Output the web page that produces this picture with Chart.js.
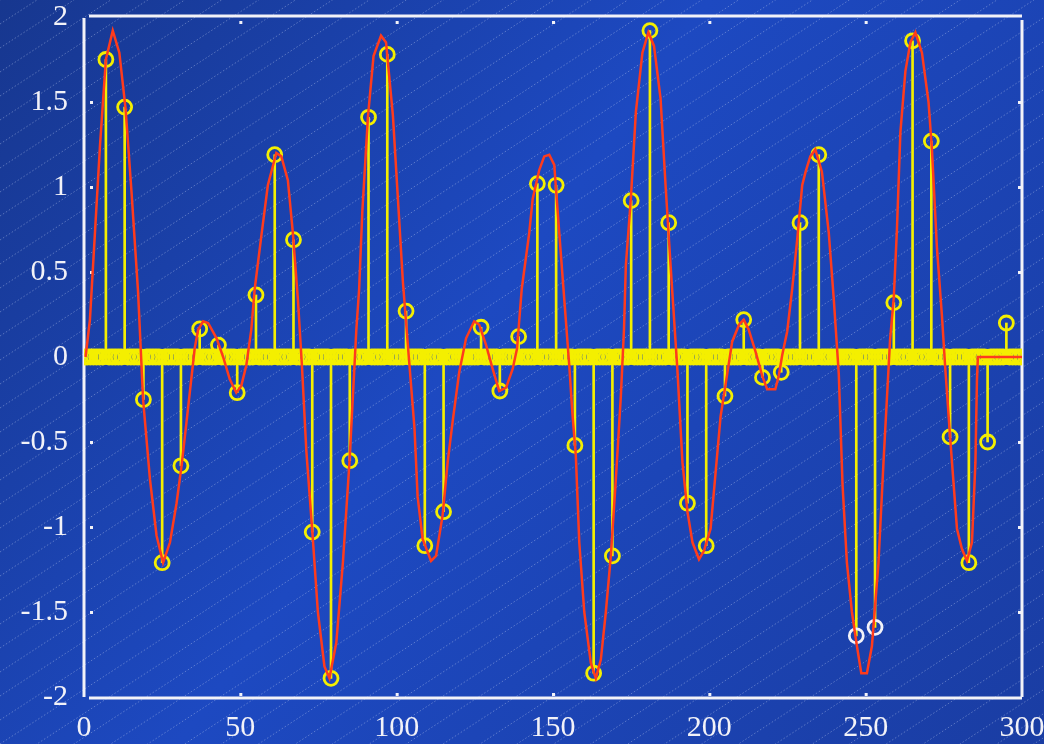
<!DOCTYPE html>
<html>
<head>
<meta charset="utf-8">
<script src="https://cdn.jsdelivr.net/npm/chart.js@4.4.1/dist/chart.umd.min.js"></script>
<style>
  html, body { margin: 0; padding: 0; background: #1c45b8; }
  canvas { display: block; }
</style>
</head>
<body>
<canvas id="grafico" width="1044" height="744"></canvas>
<script>
// muestras: indices con valor distinto de cero (cada 6)
const stemN = [7, 13, 19, 25, 31, 37, 43, 49, 55, 61, 67, 73, 79, 85, 91, 97, 103, 109, 115, 121,
  127, 133, 139, 145, 151, 157, 163, 169, 175, 181, 187, 193, 199, 205, 211, 217, 223, 229, 235, 241,
  247, 253, 259, 265, 271, 277, 283, 289, 295];
const stemValues = [1.75, 1.47, -0.25, -1.21, -0.64, 0.165, 0.07, -0.21, 0.365, 1.19, 0.69, -1.03, -1.89, -0.61, 1.41, 1.78, 0.27, -1.11, -0.91, 0,
  0.175, -0.2, 0.12, 1.02, 1.01, -0.52, -1.86, -1.17, 0.92, 1.92, 0.79, -0.86, -1.11, -0.23, 0.22, -0.12, -0.09, 0.79, 1.19, 0,
  -1.64, -1.59, 0.32, 1.86, 1.27, -0.47, -1.21, -0.50, 0.2];
const whiteN = [247, 253];
const lastN = 300;

// curva roja
const curveX = [0.5, 1.9, 5.1, 7, 9.2, 11.3, 13.3, 15.2, 17.3, 18.9, 21.1, 23.2, 25.3, 27.5, 29.6, 31.2, 32.8, 35.4, 36.5, 38.1,
  39.7, 42.4, 44.5, 46.6, 48.7, 50.3, 51.9, 53.5, 54.6, 56.7, 58.8, 61.5, 63.1, 65.2, 66.8, 68.4, 69.7, 71.1, 73, 74.8,
  76.9, 78.5, 80.7, 82.8, 84.9, 86, 87.1, 88, 89, 90.8, 92.6, 95, 96.6, 98.8, 100.4, 102, 104.1, 105.7, 106.7, 108.3,
  111, 112.6, 114.7, 116.3, 117.9, 120, 122.2, 124.8, 126.4, 128.6, 130.7, 132.8, 135, 137.1, 138.5, 140, 142.4, 143.5, 145.6, 147.2,
  148.8, 150.4, 152, 153.6, 155.2, 156.2, 157.3, 158.4, 160, 162.1, 163.7, 165.3, 166.9, 168.5, 170.1, 171.7, 172.7, 173.3, 174.9, 176.5,
  178.6, 180.5, 182.3, 184.4, 186, 187.6, 189.8, 191.4, 193, 194.6, 196.7, 198.3, 200.4, 202, 203.6, 206.3, 207.3, 209.5, 211, 212.6,
  214.8, 216.9, 218.5, 221.1, 222.2, 223.3, 224.9, 226.5, 228.1, 229.7, 230.8, 232.3, 233.9, 236, 238.2, 239.8, 241.4, 242.6, 244, 245.6,
  247.2, 248.6, 250.4, 252, 254.1, 255.7, 257.8, 259, 260, 261.1, 262.7, 264.3, 265.9, 268, 270.1, 271.2, 272.8, 274.4, 275.4, 277,
  279.2, 280.8, 282.4, 284, 285.1, 285.6, 285.9, 300];
const curveY = [0, 0.22, 1.24, 1.75, 1.92, 1.79, 1.46, 0.97, 0.38, -0.25, -0.72, -1.05, -1.21, -1.09, -0.86, -0.64, -0.38, 0.05, 0.16, 0.21,
  0.2, 0.11, 0, -0.13, -0.21, -0.17, -0.05, 0.16, 0.4, 0.71, 1.01, 1.2, 1.18, 1.04, 0.73, 0.34, -0.05, -0.55, -1.02, -1.5,
  -1.82, -1.89, -1.68, -1.21, -0.62, -0.23, 0.16, 0.4, 0.85, 1.41, 1.77, 1.89, 1.85, 1.42, 0.93, 0.44, -0.05, -0.42, -0.82, -1.07,
  -1.2, -1.17, -0.93, -0.62, -0.38, -0.09, 0.11, 0.21, 0.19, 0.07, -0.07, -0.2, -0.18, -0.07, 0.05, 0.4, 0.73, 0.93, 1.1, 1.18,
  1.19, 1.13, 0.73, 0.34, -0.05, -0.33, -0.58, -1.09, -1.5, -1.8, -1.89, -1.78, -1.5, -1.17, -0.72, -0.23, 0.16, 0.54, 0.93, 1.44,
  1.79, 1.91, 1.83, 1.52, 1.01, 0.54, -0.08, -0.62, -0.91, -1.09, -1.19, -1.14, -1.01, -0.68, -0.35, -0.03, 0.09, 0.19, 0.22, 0.16,
  0.03, -0.11, -0.19, -0.19, -0.11, 0.01, 0.15, 0.4, 0.69, 1.01, 1.09, 1.18, 1.22, 1.09, 0.73, 0.34, -0.1, -0.75, -1.21, -1.5,
  -1.7, -1.86, -1.86, -1.7, -1.21, -0.62, 0.1, 0.35, 0.75, 1.32, 1.68, 1.85, 1.91, 1.79, 1.5, 1.22, 0.64, 0.24, -0.05, -0.47,
  -1.01, -1.13, -1.2, -1.09, -0.62, -0.13, 0, 0];

const xTicks = [0, 50, 100, 150, 200, 250, 300];
const yTicks = [-2, -1.5, -1, -0.5, 0, 0.5, 1, 1.5, 2];

const AMARILLO = '#f4ef00';
const ROJO = '#ff3b1c';
const BLANCO = '#f2f2f8';

const muestras = [];
for (let n = 0; n <= lastN; n++) {
  const i = stemN.indexOf(n);
  muestras.push({ x: n, y: i >= 0 ? stemValues[i] : 0 });
}
const tallos = stemN.map((n, i) => ({ x: n, y: stemValues[i] }));
const curva = curveX.map((x, i) => ({ x, y: curveY[i] }));

const fondo = {
  id: 'fondo',
  beforeDraw(chart) {
    const { ctx, width, height } = chart;
    ctx.save();
    const g = ctx.createLinearGradient(0, 0, width, height);
    g.addColorStop(0, '#17378f');
    g.addColorStop(0.45, '#1d49c1');
    g.addColorStop(1, '#1a3da3');
    ctx.fillStyle = g;
    ctx.fillRect(0, 0, width, height);
    // rayado diagonal
    ctx.strokeStyle = 'rgba(195,208,240,0.38)';
    ctx.lineWidth = 1;
    ctx.setLineDash([1.5, 2]);
    const slope = 0.65;
    for (let c = 0; c < height + slope * width + 24; c += 24) {
      ctx.beginPath();
      ctx.moveTo(0, c);
      ctx.lineTo(width, c - slope * width);
      ctx.stroke();
    }
    ctx.restore();
  },
  beforeDatasetsDraw(chart) {
    const { ctx, chartArea: a, scales } = chart;
    ctx.save();
    ctx.strokeStyle = BLANCO;
    ctx.lineWidth = 3;
    const linea = (x1, y1, x2, y2) => {
      ctx.beginPath();
      ctx.moveTo(x1, y1);
      ctx.lineTo(x2, y2);
      ctx.stroke();
    };
    linea(a.left, a.top + 1, a.left, a.bottom);
    linea(a.left + 5, a.bottom + 1, a.right, a.bottom + 1);
    linea(a.left + 5, a.top - 1, a.right, a.top - 1);
    linea(a.right, a.top + 3, a.right, a.bottom);
    ctx.fillStyle = BLANCO;
    yTicks.slice(1, -1).forEach(v => {
      const y = scales.y.getPixelForValue(v);
      ctx.fillRect(a.left + 6, y - 1, 3, 3);
      ctx.fillRect(a.right - 4, y - 1, 3, 3);
    });
    xTicks.slice(1, -1).forEach(v => {
      const x = scales.x.getPixelForValue(v);
      ctx.fillRect(x - 1, a.top + 4, 3, 3);
      ctx.fillRect(x - 1, a.bottom - 4, 3, 3);
    });
    ctx.restore();
  }
};

const fuente = { family: '"Liberation Serif", "Times New Roman", serif', size: 30 };

new Chart(document.getElementById('grafico'), {
  type: 'line',
  data: {
    datasets: [
      {
        type: 'line',
        data: curva,
        borderColor: ROJO,
        borderWidth: 2.5,
        pointRadius: 0,
        tension: 0,
        fill: false,
        order: 0
      },
      {
        type: 'scatter',
        data: muestras,
        showLine: false,
        pointRadius: 7,
        pointBorderWidth: 2.8,
        pointBackgroundColor: 'rgba(0,0,0,0)',
        pointBorderColor: muestras.map(m => whiteN.includes(m.x) ? BLANCO : AMARILLO),
        order: 1
      },
      {
        type: 'bar',
        data: tallos,
        backgroundColor: AMARILLO,
        borderWidth: 0,
        barThickness: 2,
        grouped: false,
        order: 2
      }
    ]
  },
  options: {
    responsive: false,
    devicePixelRatio: 1,
    animation: false,
    layout: { padding: { top: 17, right: 22, left: 0, bottom: 0 } },
    plugins: { legend: { display: false }, tooltip: { enabled: false } },
    scales: {
      x: {
        type: 'linear',
        min: 0,
        max: 300,
        offset: false,
        grid: { display: false, drawTicks: false },
        border: { display: false },
        afterFit: s => { s.height = 47; s.paddingLeft = 0; s.paddingRight = 0; },
        afterBuildTicks: s => { s.ticks = xTicks.map(v => ({ value: v })); },
        ticks: { color: BLANCO, font: fuente, padding: 13, maxRotation: 0, callback: v => String(v) }
      },
      y: {
        type: 'linear',
        min: -2,
        max: 2,
        grid: { display: false, drawTicks: false },
        border: { display: false },
        afterFit: s => { s.width = 84; s.paddingTop = 0; s.paddingBottom = 0; },
        afterBuildTicks: s => { s.ticks = yTicks.map(v => ({ value: v })); },
        ticks: { color: BLANCO, font: fuente, padding: 16, callback: v => String(v) }
      }
    }
  },
  plugins: [fondo]
});
</script>
</body>
</html>
